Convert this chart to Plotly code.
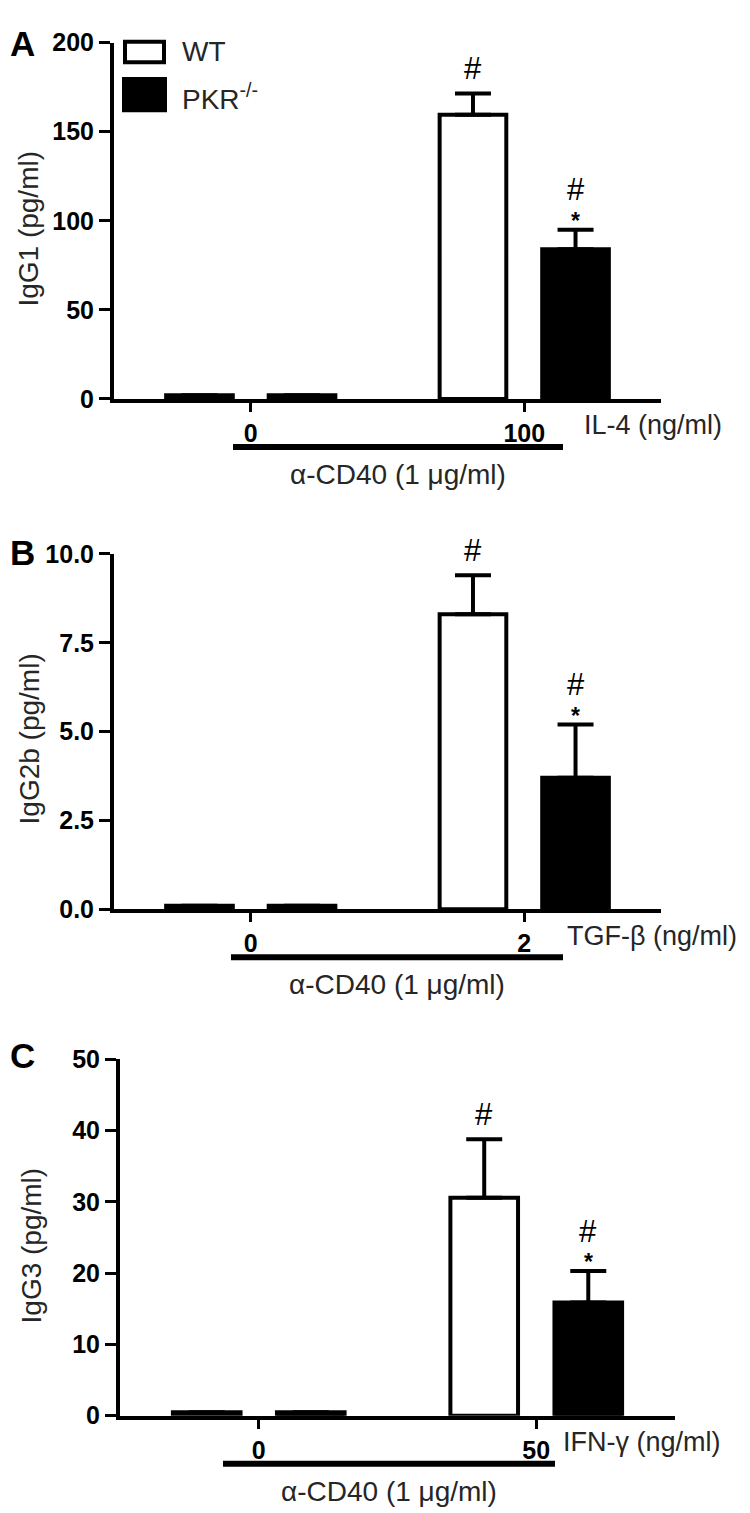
import plotly.graph_objects as go

W, H = 750, 1513

# ---------------- data ----------------
groups_A = ["0", "100"]
wt_A = [2.0, 159.5]
wt_A_err = [0.0, 12.0]
pkr_A = [2.0, 84.0]
pkr_A_err = [0.0, 11.0]

groups_B = ["0", "2"]
wt_B = [0.1, 8.3]
wt_B_err = [0.0, 1.1]
pkr_B = [0.1, 3.7]
pkr_B_err = [0.0, 1.5]

groups_C = ["0", "50"]
wt_C = [0.5, 30.6]
wt_C_err = [0.0, 8.2]
pkr_C = [0.5, 15.9]
pkr_C_err = [0.0, 4.4]

series_names = ["WT", "PKR<sup>-/-</sup>"]
ytitles = ["IgG1 (pg/ml)", "IgG2b (pg/ml)", "IgG3 (pg/ml)"]
xlabels = ["IL-4 (ng/ml)", "TGF-β (ng/ml)", "IFN-γ (ng/ml)"]
panel_letters = ["A", "B", "C"]
cd40_label = "α-CD40 (1 μg/ml)"
yticks_A = [0, 50, 100, 150, 200]
yticks_B = [0.0, 2.5, 5.0, 7.5, 10.0]
yticks_C = [0, 10, 20, 30, 40, 50]

# ---------------- style / layout ----------------
FONT = "Liberation Sans, Arial, sans-serif"
TXT = "#262626"
BARGAP = 0.25
BARGROUPGAP = 0.35
OFF = (1 - BARGAP) / 4.0


def px(x):
    return x / W


def py(y):
    return 1 - y / H


# pixel geometry of each panel: (left, right, top, bottom)
panels = [
    dict(g=groups_A, wt=wt_A, we=wt_A_err, pk=pkr_A, pe=pkr_A_err, rng=[0, 200],
         tv=yticks_A, tt=[str(v) for v in yticks_A],
         box=(106, 653, 21, 384), title_x=21, letter_y=22,
         xlab_x=574, line=(225, 555), cd40_x=390),
    dict(g=groups_B, wt=wt_B, we=wt_B_err, pk=pkr_B, pe=pkr_B_err, rng=[0, 10],
         tv=yticks_B, tt=[f"{v:.1f}" for v in yticks_B],
         box=(106, 653, 542, 904), title_x=21, letter_y=540,
         xlab_x=557, line=(223, 555), cd40_x=389),
    dict(g=groups_C, wt=wt_C, we=wt_C_err, pk=pkr_C, pe=pkr_C_err, rng=[0, 50],
         tv=yticks_C, tt=[str(v) for v in yticks_C],
         box=(112, 667, 1057, 1420), title_x=23, letter_y=1053,
         xlab_x=553, line=(215, 547), cd40_x=381),
]

fig = go.Figure()
annotations = []
shapes = []

for i, p in enumerate(panels):
    n = "" if i == 0 else str(i + 1)
    xa, ya = "x" + n, "y" + n
    for name, vals, errs, fill in [(series_names[0], p["wt"], p["we"], "white"),
                                   (series_names[1], p["pk"], p["pe"], "black")]:
        fig.add_trace(go.Bar(
            x=p["g"], y=vals, name=name, xaxis=xa, yaxis=ya, showlegend=False,
            marker=dict(color=fill, line=dict(color="black", width=4)),
            error_y=dict(type="data", array=errs, arrayminus=[0] * len(errs),
                         symmetric=False, color="black", thickness=4, width=18),
        ))
    l, r, t, b = p["box"]
    axis_common = dict(showline=True, linewidth=4, linecolor="black", showgrid=False,
                       zeroline=False, ticks="outside", tickcolor="black")
    fig.layout["xaxis" + n] = dict(
        axis_common, domain=[px(l), px(r)], anchor=ya, type="category",
        ticklen=9, tickwidth=3,
        tickfont=dict(family=FONT, size=25, color="black", weight="bold"))
    fig.layout["yaxis" + n] = dict(
        axis_common, domain=[py(b), py(t)], anchor=xa, range=p["rng"],
        tickvals=p["tv"], ticktext=p["tt"], ticklen=11, tickwidth=3,
        tickfont=dict(family=FONT, size=25, color="black", weight="bold"))

    # significance marks above the stimulated bars
    k = len(p["g"]) - 1
    wt_top = p["wt"][k] + p["we"][k]
    pk_top = p["pk"][k] + p["pe"][k]
    annotations += [
        dict(x=k - OFF, y=wt_top, xref=xa, yref=ya, text="#", showarrow=False,
             yanchor="middle", yshift=25, font=dict(family=FONT, size=31, color="black")),
        dict(x=k + OFF, y=pk_top, xref=xa, yref=ya, text="*", showarrow=False,
             yanchor="middle", yshift=9, font=dict(family=FONT, size=23, color="black",
                                                   weight="bold")),
        dict(x=k + OFF, y=pk_top, xref=xa, yref=ya, text="#", showarrow=False,
             yanchor="middle", yshift=40, font=dict(family=FONT, size=31, color="black")),
    ]

    # axis title, panel letter, stimulus label, α-CD40 bar and label
    annotations += [
        dict(x=px(p["title_x"]), y=py((t + b) / 2 + 8), xref="paper", yref="paper",
             text=ytitles[i], textangle=-90, showarrow=False, xanchor="center",
             yanchor="middle", font=dict(family=FONT, size=28, color=TXT)),
        dict(x=px(0), y=py(p["letter_y"]), xref="paper", yref="paper",
             text=panel_letters[i], showarrow=False, xanchor="left", yanchor="middle",
             font=dict(family=FONT, size=35, color="black", weight="bold")),
        dict(x=px(p["xlab_x"]), y=py(b + 27), xref="paper", yref="paper",
             text=xlabels[i], showarrow=False, xanchor="left", yanchor="middle",
             font=dict(family=FONT, size=27, color=TXT)),
        dict(x=px(p["cd40_x"]), y=py(b + 77), xref="paper", yref="paper",
             text=cd40_label, showarrow=False, xanchor="center", yanchor="middle",
             font=dict(family=FONT, size=28, color=TXT)),
    ]
    shapes.append(dict(type="line", xref="paper", yref="paper",
                       x0=px(p["line"][0]), x1=px(p["line"][1]),
                       y0=py(b + 49), y1=py(b + 49),
                       line=dict(color="black", width=6)))

# legend (panel A)
shapes += [
    dict(type="rect", xref="paper", yref="paper", x0=px(117), x1=px(156),
         y0=py(41), y1=py(20), line=dict(color="black", width=4), fillcolor="white"),
    dict(type="rect", xref="paper", yref="paper", x0=px(115), x1=px(158),
         y0=py(91), y1=py(57), line=dict(color="black", width=2), fillcolor="black"),
]
annotations += [
    dict(x=px(172), y=py(30), xref="paper", yref="paper", text=series_names[0],
         showarrow=False, xanchor="left", yanchor="middle",
         font=dict(family=FONT, size=28, color=TXT)),
    dict(x=px(172), y=py(76), xref="paper", yref="paper", text=series_names[1],
         showarrow=False, xanchor="left", yanchor="middle",
         font=dict(family=FONT, size=28, color=TXT)),
]

fig.update_layout(
    width=W, height=H, margin=dict(l=0, r=0, t=0, b=0),
    paper_bgcolor="white", plot_bgcolor="white",
    barmode="group", bargap=BARGAP, bargroupgap=BARGROUPGAP,
    annotations=annotations, shapes=shapes, showlegend=False,
)

fig.write_html("out.html")
